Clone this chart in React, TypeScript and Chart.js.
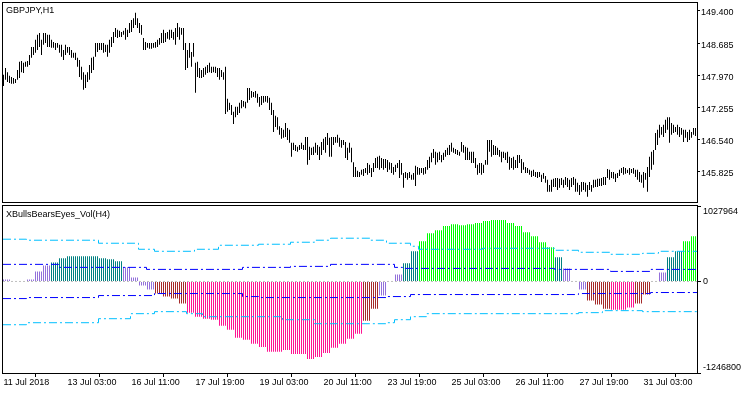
import React, { useEffect, useRef } from 'react';
import { Chart, registerables } from 'chart.js';
Chart.register(...registerables);

const FONT = '"Liberation Sans", Arial, sans-serif';
const BAR_COUNT = 347;

// ---------- price panel (GBPJPY, H1) ----------
const priceHigh = [
  147.98,148.13,148.04,147.96,147.93,147.91,147.89,148.09,148.27,148.29,
  148.25,148.27,148.29,148.42,148.60,148.60,148.76,148.87,148.91,148.76,
  148.91,148.91,148.87,148.87,148.76,148.71,148.69,148.69,148.65,148.65,
  148.53,148.65,148.60,148.60,148.53,148.47,148.47,148.36,148.31,148.16,
  148.04,147.98,148.04,148.20,148.36,148.38,148.69,148.69,148.69,148.69,
  148.69,148.65,148.65,148.76,148.82,148.93,149.02,148.98,148.96,148.93,
  148.96,149.02,148.98,149.13,149.20,149.24,149.36,149.24,149.13,149.09,
  148.80,148.71,148.69,148.69,148.69,148.69,148.71,148.76,148.80,148.91,
  148.98,148.91,148.93,148.98,148.98,148.93,149.02,149.13,149.04,149.02,
  149.02,148.69,148.53,148.69,148.49,148.69,148.25,148.27,148.13,148.09,
  148.13,148.16,148.20,148.25,148.16,148.16,148.16,148.13,148.13,148.09,
  148.04,148.16,147.45,147.36,147.31,147.16,147.27,147.27,147.36,147.42,
  147.40,147.38,147.69,147.69,147.62,147.60,147.62,147.56,147.49,147.51,
  147.51,147.51,147.51,147.47,147.36,147.20,147.07,147.04,146.84,146.80,
  146.76,146.91,146.80,146.76,146.47,146.47,146.42,146.38,146.42,146.47,
  146.42,146.60,146.60,146.38,146.36,146.38,146.47,146.42,146.38,146.49,
  146.56,146.60,146.69,146.58,146.60,146.60,146.60,146.65,146.58,146.53,
  146.53,146.49,146.36,146.47,146.36,146.04,145.93,145.85,145.82,145.87,
  145.89,145.91,146.02,145.98,145.91,146.02,146.13,146.16,146.18,146.13,
  146.11,146.11,146.09,146.04,146.02,145.93,145.98,146.02,146.09,146.02,
  145.80,145.82,145.80,145.82,145.76,145.80,145.96,145.93,145.91,145.91,
  145.91,145.93,146.09,146.16,146.25,146.33,146.27,146.25,146.27,146.20,
  146.25,146.31,146.36,146.42,146.47,146.36,146.33,146.31,146.27,146.49,
  146.42,146.38,146.36,146.27,146.27,146.27,146.13,145.98,146.02,146.02,
  145.98,146.09,146.53,146.53,146.53,146.42,146.40,146.36,146.31,146.27,
  146.27,146.25,146.27,146.16,146.13,146.16,146.09,146.20,146.20,146.11,
  146.04,145.93,145.91,145.87,145.85,145.87,145.82,145.82,145.82,145.76,
  145.80,145.73,145.65,145.53,145.65,145.67,145.69,145.69,145.67,145.69,
  145.65,145.71,145.69,145.65,145.69,145.71,145.67,145.58,145.53,145.60,
  145.60,145.58,145.53,145.60,145.53,145.65,145.65,145.67,145.67,145.69,
  145.71,145.71,145.89,145.87,145.82,145.82,145.78,145.80,145.87,145.91,
  145.93,145.91,145.87,145.91,145.89,145.91,145.87,145.87,145.82,145.76,
  145.82,145.80,145.93,146.16,146.27,146.31,146.69,146.76,146.87,146.82,
  146.87,146.98,147.04,147.04,146.91,146.87,146.82,146.87,146.82,146.80,
  146.76,146.76,146.71,146.76,146.71,146.80,146.80
];
const priceLow = [
  147.73,147.87,147.82,147.80,147.78,147.78,147.80,147.87,147.91,148.04,
  148.02,148.16,148.16,148.20,148.36,148.42,148.47,148.53,148.60,148.42,
  148.65,148.69,148.60,148.60,148.58,148.58,148.53,148.58,148.47,148.38,
  148.31,148.42,148.47,148.42,148.36,148.36,148.31,148.16,147.93,147.87,
  147.65,147.69,147.82,147.87,148.02,148.09,148.38,148.49,148.53,148.53,
  148.47,148.49,148.38,148.47,148.60,148.69,148.82,148.80,148.82,148.82,
  148.87,148.76,148.82,148.91,148.93,149.02,149.09,149.02,148.91,148.87,
  148.53,148.53,148.58,148.56,148.56,148.58,148.58,148.60,148.65,148.69,
  148.69,148.71,148.78,148.76,148.80,148.76,148.65,148.82,148.76,148.87,
  148.53,148.09,148.13,148.36,148.16,148.38,147.58,147.93,147.91,147.91,
  147.93,147.98,148.02,148.04,148.02,148.04,148.02,147.93,147.87,147.93,
  147.87,147.11,147.16,147.20,147.09,146.89,147.04,147.09,147.13,147.24,
  147.27,147.24,147.36,147.42,147.47,147.49,147.47,147.36,147.27,147.31,
  147.36,147.38,147.36,147.20,147.09,146.71,146.82,146.76,146.65,146.56,
  146.58,146.60,146.53,146.47,146.16,146.31,146.29,146.27,146.31,146.33,
  146.31,146.31,145.98,146.09,146.20,146.20,146.25,146.20,146.09,146.20,
  146.31,146.25,146.42,146.16,146.16,146.42,146.47,146.47,146.38,146.36,
  146.42,146.13,146.09,146.25,146.04,145.71,145.71,145.71,145.71,145.76,
  145.73,145.80,145.76,145.80,145.71,145.82,145.91,145.91,145.87,145.91,
  145.87,145.91,145.82,145.87,145.80,145.76,145.82,145.91,145.69,145.76,
  145.47,145.69,145.65,145.69,145.65,145.65,145.51,145.76,145.76,145.80,
  145.76,145.78,145.87,145.91,146.04,146.13,145.98,146.04,146.09,146.04,
  146.09,146.16,146.20,146.20,146.27,146.25,146.22,146.20,146.18,146.27,
  146.25,146.09,146.09,146.09,146.02,146.02,145.91,145.76,145.80,145.76,
  145.80,145.98,145.98,146.27,146.16,146.20,146.20,146.20,146.16,146.04,
  146.13,146.09,146.02,145.87,145.91,145.87,145.91,145.91,146.02,145.80,
  145.87,145.80,145.80,145.76,145.71,145.73,145.71,145.69,145.71,145.60,
  145.67,145.58,145.38,145.38,145.38,145.49,145.49,145.42,145.47,145.53,
  145.47,145.53,145.49,145.42,145.49,145.53,145.38,145.38,145.31,145.38,
  145.42,145.38,145.27,145.42,145.38,145.47,145.49,145.49,145.51,145.51,
  145.53,145.53,145.69,145.65,145.69,145.67,145.60,145.69,145.73,145.80,
  145.76,145.78,145.80,145.76,145.80,145.78,145.71,145.65,145.60,145.58,
  145.47,145.65,145.38,145.71,145.87,145.98,146.31,146.42,146.58,146.65,
  146.60,146.69,146.76,146.47,146.65,146.69,146.71,146.65,146.60,146.65,
  146.49,146.58,146.49,146.53,146.58,146.65,146.62
];
const priceTicks = [145.825, 146.540, 147.255, 147.970, 148.685, 149.400];
const priceMin = 145.155;
const priceMax = 149.577;

// ---------- indicator panel (XBullsBearsEyes_Vol, H4 values) ----------
const volH4 = [
  27000, 0, 0, 27000, 137000, 219000, 260000, 315000, 343000, 343000,
  343000, 343000, 315000, 301000, 274000, 192000, 55000, -55000, -110000, -164000,
  -206000, -233000, -301000, -425000, -480000, -507000, -521000, -603000, -658000, -767000,
  -795000, -850000, -891000, -959000, -959000, -932000, -987000, -987000, -1055000, -1028000,
  -973000, -904000, -850000, -781000, -713000, -534000, -370000, -192000, 0, 96000,
  247000, 411000, 548000, 658000, 699000, 754000, 781000, 767000, 781000, 795000,
  822000, 836000, 836000, 795000, 754000, 671000, 617000, 534000, 466000, 329000,
  178000, 0, -110000, -260000, -315000, -370000, -384000, -384000, -356000, -301000,
  -178000, 0, 123000, 329000, 411000, 548000, 617000
];
// 0 weak, 1 bulls, 2 strong bulls, 3 bears, 4 strong bears
const volColorCode = [
  0,0,0,0,0,0,1,1,1,1,
  1,1,1,1,1,0,0,0,0,3,
  3,3,3,4,4,4,4,4,4,4,
  4,4,4,4,4,4,4,4,4,4,
  4,4,4,4,4,3,3,0,0,0,
  1,1,2,2,2,2,2,2,2,2,
  2,2,2,2,2,2,2,2,2,1,
  0,0,0,3,3,3,4,4,4,3,
  3,0,0,1,1,2,2
];
const volColors = ['#9370DB', '#008080', '#00FF00', '#A52A2A', '#FF1493'];
const volMin = -1246800;
const volMax = 1027964;
const volTicks = [-1246800, 0, 1027964];

// level lines: H4 group index where a new value starts, and the value
const upOuterStart = [0, 3, 12, 17, 19, 24, 27, 32, 36, 39, 41, 46, 48, 51, 52, 60, 69, 72, 76, 80, 82];
const upOuterVal = [575500, 561800, 520700, 438500, 411100, 438500, 493300, 507000, 534400, 561800, 589200, 561800, 520700, 479600, 438500, 452200, 424800, 397400, 370000, 383700, 411100];
const upInnerStart = [0, 7, 18, 30, 36, 41, 49, 50, 69, 76, 81];
const upInnerVal = [232900, 191800, 164400, 191800, 205500, 232900, 191800, 178100, 164400, 137000, 164400];
const loInnerStart = [0, 3, 12, 19, 30, 32, 48, 51, 72, 81];
const loInnerVal = [-232900, -219200, -191800, -164400, -205500, -219200, -205500, -178100, -164400, -150700];
const loOuterStart = [0, 3, 12, 16, 19, 23, 25, 35, 39, 48, 49, 51, 53, 72, 75, 80];
const loOuterVal = [-589200, -561800, -507000, -438500, -411100, -438500, -479600, -520700, -575500, -561800, -520700, -479600, -438500, -424800, -397400, -411100];

// ---------- time axis ----------
const timeTickIdx = [0, 32, 64, 96, 128, 160, 192, 224, 256, 288, 320];
const timeTickLabels = ['11 Jul 2018', '13 Jul 03:00', '16 Jul 11:00', '17 Jul 19:00', '19 Jul 03:00', '20 Jul 11:00', '23 Jul 19:00', '25 Jul 03:00', '26 Jul 11:00', '27 Jul 19:00', '31 Jul 03:00'];

function stepLine(starts: number[], vals: number[]) {
  const pts = starts.map((g, j) => ({ x: g === 0 ? -0.25 : g * 4 - 0.5, y: vals[j] }));
  pts.push({ x: BAR_COUNT - 0.25, y: vals[vals.length - 1] });
  return pts;
}

function volBarsOfColor(code: number) {
  const pts: { x: number; y: number }[] = [];
  for (let i = 0; i < BAR_COUNT; i++) {
    const g = Math.floor(i / 4);
    if (volColorCode[g] === code) pts.push({ x: i, y: volH4[g] });
  }
  return pts;
}

function framePlugin(l: number, t: number, r: number, b: number, title: string, titleY: number) {
  return {
    id: 'mtFrame',
    afterDraw(chart: any) {
      const ctx = chart.ctx;
      ctx.save();
      ctx.strokeStyle = '#000';
      ctx.lineWidth = 1;
      ctx.setLineDash([]);
      ctx.strokeRect(l + 0.5, t + 0.5, r - l, b - t);
      ctx.fillStyle = '#000';
      ctx.font = '9px ' + FONT;
      ctx.textAlign = 'left';
      ctx.textBaseline = 'alphabetic';
      ctx.fillText(title, 6, titleY);
      ctx.restore();
    },
  };
}

const lineDs = (data: any[], color: string) => ({
  type: 'line',
  data,
  borderColor: color,
  backgroundColor: color,
  borderWidth: 1,
  borderDash: [8, 3, 2, 3],
  pointRadius: 0,
  stepped: 'before',
  fill: false,
  tension: 0,
  order: 0,
});

const barDs = (code: number) => ({
  type: 'bar',
  data: volBarsOfColor(code),
  backgroundColor: volColors[code],
  borderColor: volColors[code],
  borderWidth: 0,
  grouped: false,
  maxBarThickness: 1,
  inflateAmount: 0,
  order: 1,
});

export default function App() {
  const topRef = useRef<HTMLCanvasElement>(null);
  const botRef = useRef<HTMLCanvasElement>(null);

  useEffect(() => {
    const xRange = { type: 'linear', min: -0.25, max: BAR_COUNT - 0.25, offset: false };

    const top = new Chart(topRef.current as HTMLCanvasElement, {
      type: 'bar',
      data: {
        datasets: [
          {
            data: priceHigh.map((h, i) => ({ x: i, y: [priceLow[i], h] })),
            backgroundColor: '#000',
            borderColor: '#000',
            borderWidth: 0,
            barThickness: 1,
            inflateAmount: 0,
          } as any,
        ],
      },
      options: {
        animation: false,
        responsive: false,
        maintainAspectRatio: false,
        events: [],
        layout: { padding: { left: 3, top: 3, right: 0, bottom: 2 } },
        plugins: { legend: { display: false }, tooltip: { enabled: false }, colors: { enabled: false } } as any,
        scales: {
          x: { ...xRange, display: false } as any,
          y: {
            position: 'right',
            min: priceMin,
            max: priceMax,
            afterBuildTicks: (s: any) => { s.ticks = priceTicks.map((v) => ({ value: v })); },
            afterFit: (s: any) => { s.width = 53; s.paddingTop = 0; s.paddingBottom = 0; },
            grid: { drawOnChartArea: false, drawTicks: true, tickLength: 3, color: '#000' },
            border: { display: false },
            ticks: {
              padding: 1,
              labelOffset: 2,
              color: '#000',
              autoSkip: false,
              font: { family: FONT, size: 9 },
              callback: (v: any) => Number(v).toFixed(3),
            },
          } as any,
        },
      },
      plugins: [framePlugin(2, 2, 697, 202, 'GBPJPY,H1', 13)],
    });

    const bot = new Chart(botRef.current as HTMLCanvasElement, {
      type: 'bar',
      data: {
        datasets: [
          lineDs(stepLine(upOuterStart, upOuterVal), '#00BFFF'),
          lineDs(stepLine(upInnerStart, upInnerVal), '#0000FF'),
          lineDs(stepLine(loInnerStart, loInnerVal), '#0000FF'),
          lineDs(stepLine(loOuterStart, loOuterVal), '#00BFFF'),
          barDs(0),
          barDs(1),
          barDs(2),
          barDs(3),
          barDs(4),
          {
            type: 'line',
            data: [{ x: -0.25, y: 0 }, { x: BAR_COUNT - 0.25, y: 0 }],
            borderColor: '#C0C0C0',
            backgroundColor: '#C0C0C0',
            borderWidth: 1,
            borderDash: [2, 2],
            pointRadius: 0,
            fill: false,
            order: 2,
          },
        ] as any,
      },
      options: {
        animation: false,
        responsive: false,
        maintainAspectRatio: false,
        events: [],
        layout: { padding: { left: 3, top: 2, right: 0, bottom: 0 } },
        plugins: { legend: { display: false }, tooltip: { enabled: false }, colors: { enabled: false } } as any,
        scales: {
          x: {
            ...xRange,
            position: 'bottom',
            afterBuildTicks: (s: any) => { s.ticks = timeTickIdx.map((v) => ({ value: v })); },
            afterFit: (s: any) => { s.height = 21; s.paddingLeft = 0; s.paddingRight = 0; },
            grid: { drawOnChartArea: false, drawTicks: true, tickLength: 4, color: '#000' },
            border: { display: false },
            ticks: {
              align: 'start',
              padding: 0,
              maxRotation: 0,
              autoSkip: false,
              color: '#000',
              font: { family: FONT, size: 9 },
              callback: (v: any) => timeTickLabels[timeTickIdx.indexOf(v)],
            },
          } as any,
          y: {
            position: 'right',
            min: volMin,
            max: volMax,
            afterBuildTicks: (s: any) => { s.ticks = volTicks.map((v) => ({ value: v })); },
            afterFit: (s: any) => { s.width = 53; s.paddingTop = 0; s.paddingBottom = 0; },
            grid: { drawOnChartArea: false, drawTicks: true, tickLength: 4, color: '#000' },
            border: { display: false },
            ticks: {
              padding: 2,
              color: '#000',
              autoSkip: false,
              font: { family: FONT, size: 9 },
              callback: (v: any) => (v === volMax ? ['', String(v)] : v === volMin ? [String(v), ''] : String(v)),
            },
          } as any,
        },
      },
      plugins: [framePlugin(2, 1, 697, 169, 'XBullsBearsEyes_Vol(H4)', 13)],
    });

    return () => {
      top.destroy();
      bot.destroy();
    };
  }, []);

  return (
    <div style={{ position: 'fixed', left: 0, top: 0, width: 750, height: 394, background: '#fff', overflow: 'hidden' }}>
      <canvas ref={topRef} width={750} height={204} style={{ position: 'absolute', left: 0, top: 0, width: 750, height: 204 }} />
      <canvas ref={botRef} width={750} height={190} style={{ position: 'absolute', left: 0, top: 204, width: 750, height: 190 }} />
    </div>
  );
}
